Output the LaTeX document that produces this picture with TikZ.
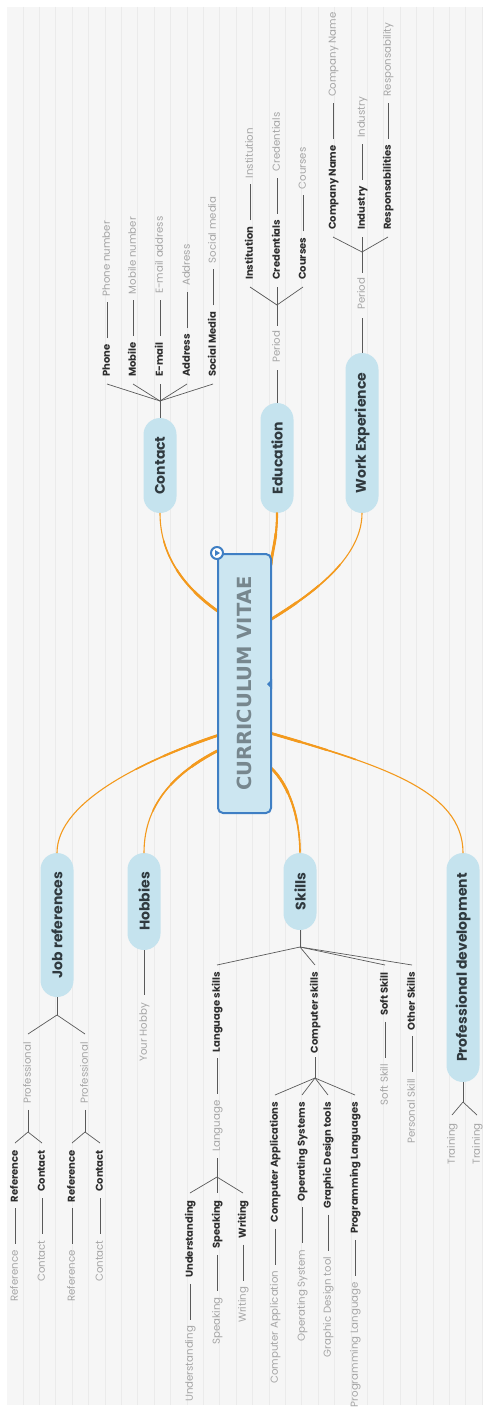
\documentclass[tikz,border=0pt]{standalone}
\usepackage{fontspec}
\setmainfont{Poppins}
\newfontfamily\djv{DejaVu Sans}
\usetikzlibrary{calc}
\definecolor{bgc}{HTML}{F6F6F6}
\definecolor{stripe}{HTML}{EBEBEB}
\definecolor{pillc}{HTML}{C5E3EE}
\definecolor{pilltext}{HTML}{303A3F}
\definecolor{orangec}{HTML}{F39A1E}
\definecolor{mainblue}{HTML}{3F7FC4}
\definecolor{mainfill}{HTML}{CCE6F1}
\definecolor{maintext}{HTML}{77878E}
\definecolor{darkl}{HTML}{2E2E2E}
\definecolor{grayl}{HTML}{A6A6A6}
\definecolor{linec}{HTML}{5A5A5A}
\newcommand\upkid[6]{%
  \node[dk,anchor=west] (#1) at (#2,#3) {#4};
  \node[gr,anchor=west] (#1g) at ([yshift=48pt]#1.east) {#5};
  \draw[ln] (#6) -- ([yshift=-7pt]#1.west);
  \draw[dashln] (#1.east) -- (#1g.west);}
\newcommand\dnkid[6]{%
  \node[dk,anchor=east] (#1) at (#2,#3) {#4};
  \node[gr,anchor=east] (#1g) at ([yshift=-48pt]#1.west) {#5};
  \draw[ln] (#6) -- ([yshift=7pt]#1.east);
  \draw[dashln] (#1.west) -- (#1g.east);}
% tapered orange branch: from point on the central topic (#1) to a topic node anchor (#4)
\newcommand\tbranch[4]{%
  \draw[br, line width=1.1pt] (#1) .. controls #2 and #3 .. (#4);
  \begin{scope}\clip (#1) circle (90pt);
    \draw[br, line width=1.6pt] (#1) .. controls #2 and #3 .. (#4);\end{scope}
  \begin{scope}\clip (#1) circle (60pt);
    \draw[br, line width=2.1pt] (#1) .. controls #2 and #3 .. (#4);\end{scope}
  \begin{scope}\clip (#1) circle (32pt);
    \draw[br, line width=2.7pt] (#1) .. controls #2 and #3 .. (#4);\end{scope}}
\begin{document}
\begin{tikzpicture}[x=1pt,y=-1pt,
 pill/.style={rotate=90, fill=pillc, rounded corners=16.5pt, minimum height=33pt, inner sep=0pt, font=\fontsize{14}{16}\selectfont\bfseries, text=pilltext},
 dk/.style={rotate=90, inner sep=0pt, text height=0.75em, text depth=0.2em, font=\fontsize{10}{12}\selectfont\bfseries, text=darkl},
 gr/.style={rotate=90, inner sep=0pt, text height=0.75em, text depth=0.2em, font=\fontsize{10.2}{12}\selectfont, text=grayl},
 br/.style={draw=orangec, line cap=round},
 ln/.style={draw=linec, line width=0.7pt},
 dashln/.style={ln, shorten >=6pt, shorten <=6pt},
]
% background
\fill[white] (0,0) rectangle (482,1410);
\fill[bgc] (7,7) rectangle (482,1405);
\foreach \i in {0,...,28} \draw[stripe, line width=0.8pt] ({23+16.4*\i},7) -- ({23+16.4*\i},1405);
\useasboundingbox (0,0) rectangle (482,1410);

% attach points on the central topic
\coordinate (mC) at (219,612);
\coordinate (mE) at (271,565);
\coordinate (mW) at (270,620);
\coordinate (mJ) at (219,735);
\coordinate (mH) at (219,750);
\coordinate (mS) at (270,767);
\coordinate (mP) at (270,733);

% main topics
\node[pill, minimum width=95pt] (contact) at (160,465.5) {Contact};
\node[pill, minimum width=110pt] (edu) at (277,458) {Education};
\node[pill, minimum width=160pt] (work) at (362,433) {Work Experience};
\node[pill, minimum width=144pt] (jobref) at (57,925) {Job references};
\node[pill, minimum width=97pt] (hobbies) at (144,901.5) {Hobbies};
\node[pill, minimum width=77pt] (skills) at (300,891.5) {Skills};
\node[pill, minimum width=229pt] (profdev) at (463,967.5) {Professional development};

% orange connectors
\tbranch{mC}{(190,592)}{(160,560)}{contact.west}
\tbranch{mE}{(272,550)}{(277,540)}{edu.west}
\tbranch{mW}{(302,600)}{(362,562)}{work.west}
\tbranch{mJ}{(150,758)}{(57,800)}{jobref.east}
\tbranch{mH}{(180,770)}{(144,800)}{hobbies.east}
\tbranch{mS}{(290,785)}{(300,820)}{skills.east}
\tbranch{mP}{(380,765)}{(463,790)}{profdev.east}

% central topic
\node[rotate=90, draw=mainblue, line width=2pt, fill=mainfill, rounded corners=5pt,
      minimum width=259pt, minimum height=53pt, inner sep=0pt,
      font=\fontsize{19.5}{22}\selectfont\djv\bfseries, text=maintext] (main) at (244.5,683.5) {CURRICULUM VITAE};
\draw[mainblue, line width=2pt, fill=white] (217,553) circle (6pt);
\fill[mainblue] (215,550) -- (220,553) -- (215,556) -- cycle;
\fill[mainblue] (272,679) -- (267,684) -- (272,689) -- cycle;

% Contact
\coordinate (cJ) at (160,401);
\draw[ln] (contact.east) -- (cJ);
\upkid{phone}{107}{377}{Phone}{Phone number}{cJ}
\upkid{mobile}{133}{377}{Mobile}{Mobile number}{cJ}
\upkid{email}{160}{377}{E-mail}{E-mail address}{cJ}
\upkid{address}{187}{377}{Address}{Address}{cJ}
\upkid{social}{213}{377}{Social Media}{Social media}{cJ}

% Education
\node[gr,anchor=west] (eper) at (277,363) {Period};
\draw[ln, shorten >=7pt] (edu.east) -- (eper.west);
\coordinate (eJ) at (277,305);
\draw[ln, shorten <=5pt] (eper.east) -- (eJ);
\upkid{inst}{250}{280}{Institution}{Institution}{eJ}
\upkid{cred}{277}{280}{Credentials}{Credentials}{eJ}
\upkid{cour}{303}{280}{Courses}{Courses}{eJ}

% Work Experience
\node[gr,anchor=west] (wper) at (362,310) {Period};
\draw[ln, shorten >=8pt] (work.east) -- (wper.west);
\coordinate (wJ) at (362,252);
\draw[ln, shorten <=5pt] (wper.east) -- (wJ);
\upkid{comp}{333}{230}{Company Name}{Company Name}{wJ}
\upkid{ind}{362}{230}{Industry}{Industry}{wJ}
\upkid{resp}{388}{230}{Responsabilities}{Responsability}{wJ}

% Job references
\coordinate (jJ) at (57,1015);
\draw[ln] (jobref.west) -- (jJ);
\node[gr,anchor=east] (prof1) at (28,1042) {Professional};
\node[gr,anchor=east] (prof2) at (85,1042) {Professional};
\draw[ln] (jJ) -- ([yshift=8pt]prof1.east);
\draw[ln] (jJ) -- ([yshift=8pt]prof2.east);
\coordinate (jJa) at (28,1132);
\coordinate (jJb) at (85,1132);
\draw[ln, shorten <=6pt] (prof1.west) -- (jJa);
\draw[ln, shorten <=6pt] (prof2.west) -- (jJb);
\dnkid{refa}{15}{1150}{Reference}{Reference}{jJa}
\dnkid{cona}{42}{1150}{Contact}{Contact}{jJa}
\dnkid{refb}{72}{1150}{Reference}{Reference}{jJb}
\dnkid{conb}{100}{1150}{Contact}{Contact}{jJb}

% Hobbies
\node[gr,anchor=east] (hobby) at (144,1003) {Your Hobby};
\draw[ln, shorten >=8pt] (hobbies.west) -- (hobby.east);

% Skills
\coordinate (sJ) at (300,947);
\draw[ln] (skills.west) -- (sJ);
\dnkid{lang}{217}{972}{Language skills}{Language}{sJ}
\coordinate (lJ) at (217,1177);
\draw[ln, shorten <=6pt] (langg.west) -- (lJ);
\dnkid{und}{190}{1200}{Understanding}{Understanding}{lJ}
\dnkid{spk}{217}{1200}{Speaking}{Speaking}{lJ}
\dnkid{wri}{243}{1200}{Writing}{Writing}{lJ}
\node[dk,anchor=east] (comps) at (315,972) {Computer skills};
\draw[ln] (sJ) -- ([yshift=7pt]comps.east);
\coordinate (cJb) at (315,1078);
\draw[ln, shorten <=4pt] (comps.west) -- (cJb);
\dnkid{capp}{275}{1102}{Computer Applications}{Computer Application}{cJb}
\dnkid{osys}{302}{1102}{Operating Systems}{Operating System}{cJb}
\dnkid{gdt}{328}{1102}{Graphic Design tools}{Graphic Design tool}{cJb}
\dnkid{plang}{355}{1102}{Programming Languages}{Programming Language}{cJb}
\dnkid{soft}{385}{972}{Soft Skill}{Soft Skill}{sJ}
\dnkid{other}{412}{972}{Other Skills}{Personal Skill}{sJ}

% Professional development
\coordinate (pJ) at (463,1102);
\draw[ln] (profdev.west) -- (pJ);
\node[gr,anchor=east] (tra) at (452,1123) {Training};
\node[gr,anchor=east] (trb) at (477,1123) {Training};
\draw[ln] (pJ) -- ([yshift=8pt]tra.east);
\draw[ln] (pJ) -- ([yshift=8pt]trb.east);
\end{tikzpicture}
\end{document}
